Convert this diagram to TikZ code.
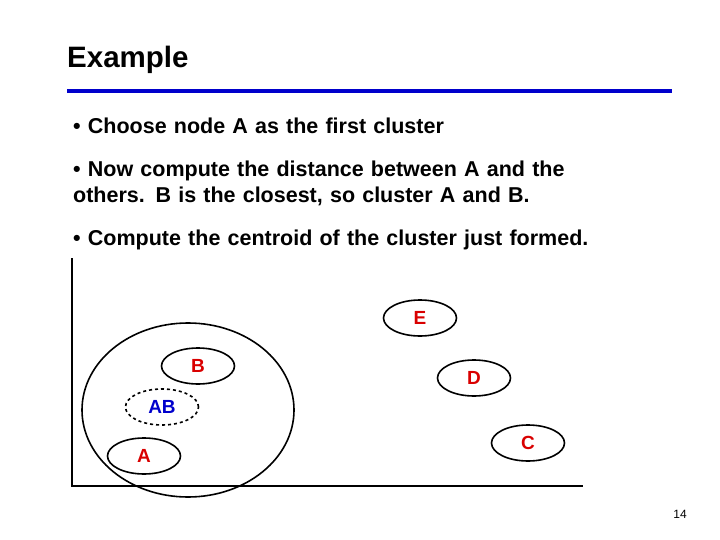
\documentclass[tikz,border=0pt]{standalone}
\usepackage{fontspec}
\setmainfont{Liberation Sans}
\usetikzlibrary{shapes.geometric}
\begin{document}
\begin{tikzpicture}[x=1pt,y=-1pt,
  pt/.style={draw,ellipse,line width=1.6pt,minimum width=73pt,minimum height=36pt,inner sep=0pt,text=red!85!black,font=\fontsize{19}{19}\selectfont\bfseries},
  bullet/.style={anchor=north west,align=left,font=\fontsize{21.5}{26}\selectfont\bfseries,text width=620pt,inner sep=0pt}]
\useasboundingbox (0,0) rectangle (720,540);
\node[anchor=west,inner sep=0pt,font=\fontsize{29.5}{30}\selectfont\bfseries] (title) at (67,60) {Example};
\draw[line width=4pt,blue!80!black] (67,91) -- (672,91);
\node[bullet] (b1) at (73,118) {• Choose node A as the first cluster};
\node[bullet] (b2) at (73,161) {• Now compute the distance between A and the\\others. B is the closest, so cluster A and B.};
\node[bullet] (b3) at (73,230) {• Compute the centroid of the cluster just formed.};
\draw[line width=2pt] (72,258) -- (72,486) -- (583,486);
\draw[line width=1.6pt] (188,410) ellipse [x radius=106, y radius=87];
\node[pt] (E) at (420,318) {E};
\node[pt] (B) at (198,366) {B};
\node[pt] (D) at (474,378) {D};
\node[pt,dashed,text=blue!80!black] (AB) at (162,407) {AB};
\node[pt] (A) at (144,456) {A};
\node[pt] (C) at (528,443) {C};
\node[font=\fontsize{12}{12}\selectfont] (n) at (680,514) {14};
\end{tikzpicture}
\end{document}
